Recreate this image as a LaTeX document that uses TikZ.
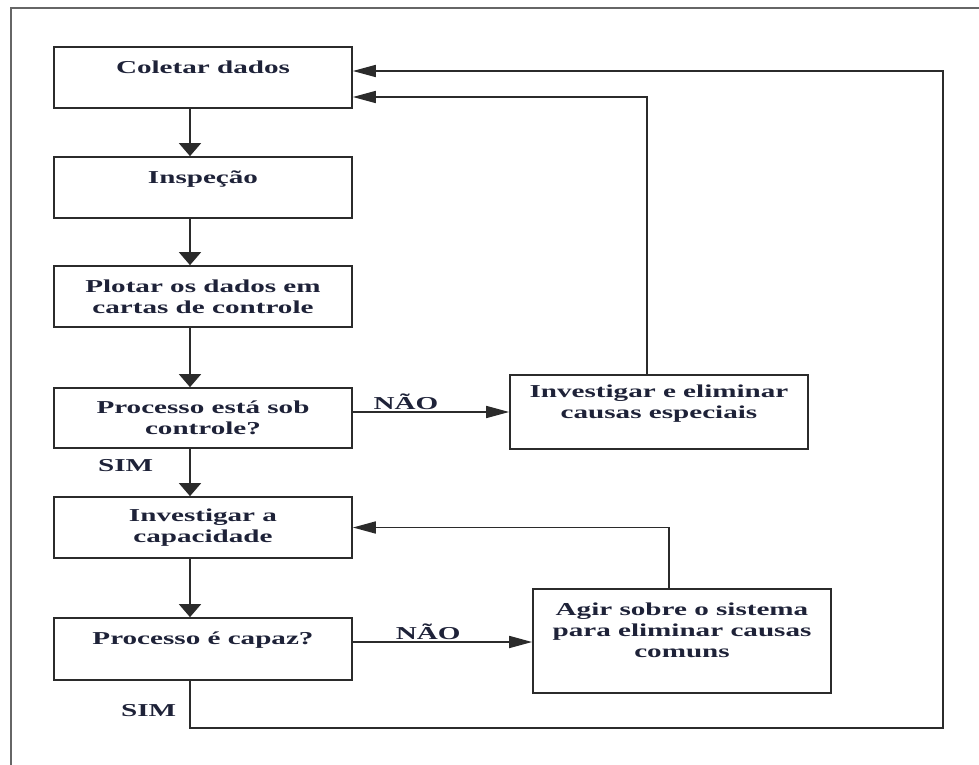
\documentclass[tikz,border=0pt]{standalone}
\usepackage{fontspec}
\setmainfont{Liberation Serif}[FakeStretch=1.6]
\usetikzlibrary{arrows.meta}
\definecolor{tinta}{HTML}{1E2238}
\definecolor{traco}{HTML}{2B2B2B}

\begin{document}
\begin{tikzpicture}[x=1pt, y=-1pt,
		bloco/.style={draw=traco, line width=1.7pt, rectangle, minimum width=298pt, align=center, inner sep=0pt, text=tinta, font=\bfseries\fontsize{18.2}{21}\selectfont},
		rotulo/.style={inner sep=0pt, text=tinta, font=\bfseries\fontsize{18.2}{21}\selectfont},
		setav/.style={draw=traco, line width=1.7pt, -{Triangle[length=13pt,width=22pt]}},
		setah/.style={draw=traco, line width=1.7pt, -{Triangle[length=23pt,width=12pt]}},
		moldura/.style={draw=gray!80!black, line width=1.8pt}]
	\useasboundingbox (0,0) rectangle (979,765);
	% Moldura
	\draw[moldura] (11,765) |- (979,8);
	% Caixas
	\node[bloco, minimum height=61pt] (coleta) at (203,77.5) {Coletar dados\\~};
	\node[bloco, minimum height=61pt] (inspecao) at (203,187.5) {Inspeção\\~};
	\node[bloco, minimum height=61pt] (plotar) at (203,296.5) {Plotar os dados em\\cartas de controle};
	\node[bloco, minimum height=60pt] (controle) at (203,418) {Processo está sob\\controle?};
	\node[bloco, minimum height=74pt] (especiais) at (659,412) {Investigar e eliminar\\causas especiais\\~};
	\node[bloco, minimum height=61pt] (capacidade) at (203,527.5) {Investigar a\\capacidade};
	\node[bloco, minimum height=62pt] (capaz) at (203,649) {Processo é capaz?\\~};
	\node[bloco, minimum height=104pt] (agir) at (682,641) {Agir sobre o sistema\\para eliminar causas\\comuns\\~};
	\coordinate (canto) at (943,728);
	% Setas para baixo
	\draw[setav] ([xshift=-13pt]coleta.south) -- ([xshift=-13pt]inspecao.north);
	\draw[setav] ([xshift=-13pt]inspecao.south) -- ([xshift=-13pt]plotar.north);
	\draw[setav] ([xshift=-13pt]plotar.south) -- ([xshift=-13pt]controle.north);
	\draw[setav] ([xshift=-13pt]controle.south) -- node[rotulo, pos=0.36, left=36pt] {SIM} ([xshift=-13pt]capacidade.north);
	\draw[setav] ([xshift=-13pt]capacidade.south) -- ([xshift=-13pt]capaz.north);
	% Desvios NAO
	\draw[setah] ([yshift=6pt]controle.east) -- node[rotulo, pos=0.34, above=1pt] {NÃO} ([yshift=6pt]controle.east -| especiais.west);
	\draw[setah] ([yshift=7pt]capaz.east) -- node[rotulo, pos=0.42, above=1pt] {NÃO} ([yshift=7pt]capaz.east -| agir.west);
	% Retornos
	\draw[setah] ([xshift=-12pt]especiais.north) |- ([yshift=-19.5pt]coleta.east);
	\draw[setah] ([xshift=-13pt]agir.north) |- (capacidade.east);
	\draw[setah] ([xshift=-13pt]capaz.south) |- node[rotulo, pos=0.31, left=13pt] {SIM} (canto) |- ([yshift=6.5pt]coleta.east);
\end{tikzpicture}
\end{document}
